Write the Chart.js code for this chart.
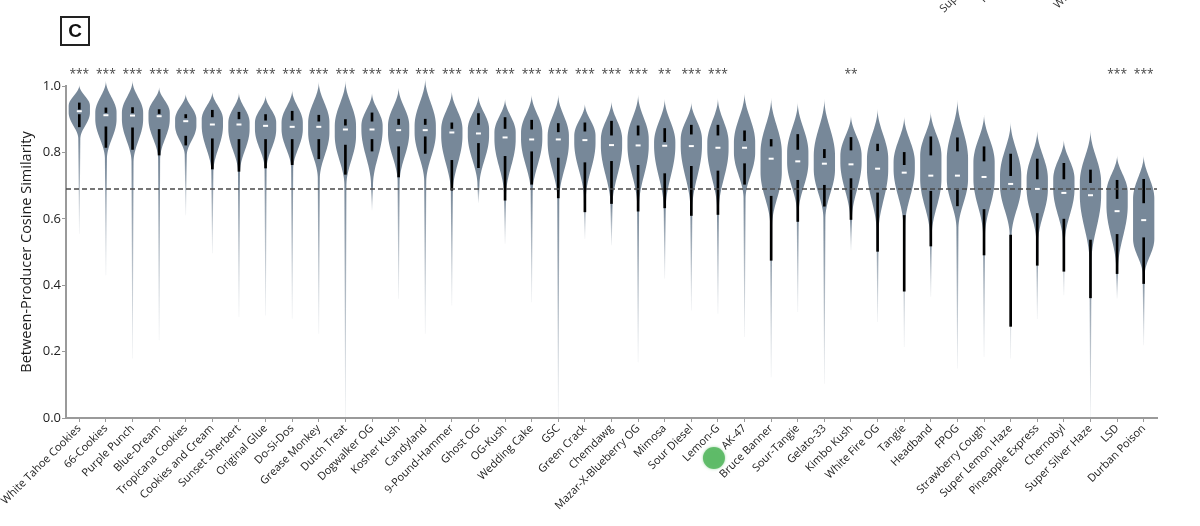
<!DOCTYPE html>
<html>
<head>
<meta charset="utf-8">
<script src="https://cdn.jsdelivr.net/npm/chart.js@4.4.1/dist/chart.umd.min.js"></script>
<style>
  html, body { margin: 0; padding: 0; background: #fff; }
  #wrap { width: 1200px; height: 526px; position: relative; }
</style>
</head>
<body>
<div id="wrap"><canvas id="chart" width="1200" height="526"></canvas></div>
<script>
// strains, ordered by median similarity
const strains = ['White Tahoe Cookies', '66-Cookies', 'Purple Punch', 'Blue-Dream', 'Tropicana Cookies',
  'Cookies and Cream', 'Sunset Sherbert', 'Original Glue', 'Do-Si-Dos', 'Grease Monkey', 'Dutch Treat',
  'Dogwalker OG', 'Kosher Kush', 'Candyland', '9-Pound-Hammer', 'Ghost OG', 'OG-Kush', 'Wedding Cake',
  'GSC', 'Green Crack', 'Chemdawg', 'Mazar-X-Blueberry OG', 'Mimosa', 'Sour Diesel', 'Lemon-G', 'AK-47',
  'Bruce Banner', 'Sour-Tangie', 'Gelato-33', 'Kimbo Kush', 'White Fire OG', 'Tangie', 'Headband', 'FPOG',
  'Strawberry Cough', 'Super Lemon Haze', 'Pineapple Express', 'Chernobyl', 'Super Silver Haze', 'LSD',
  'Durban Poison'];

const stars = ['***', '***', '***', '***', '***', '***', '***', '***', '***', '***', '***', '***', '***',
  '***', '***', '***', '***', '***', '***', '***', '***', '***', '**', '***', '***', '', '', '', '', '**',
  '', '', '', '', '', '', '', '', '', '***', '***'];

// violin outline key points (similarity values)
const violinTop = [1.003, 1.016, 1.016, 0.996, 0.977, 0.983, 0.980, 0.972, 0.988, 1.013, 1.016, 0.980, 0.996,
  1.023, 0.985, 0.972, 0.962, 0.974, 0.974, 0.947, 0.955, 0.974, 0.962, 0.952, 0.964, 0.980, 0.965, 0.952,
  0.962, 0.912, 0.932, 0.909, 0.923, 0.960, 0.915, 0.892, 0.867, 0.839, 0.867, 0.792, 0.792];
const widestTop = [0.94, 0.92, 0.92, 0.92, 0.90, 0.90, 0.89, 0.89, 0.89, 0.89, 0.88, 0.88, 0.88, 0.88, 0.87,
  0.87, 0.86, 0.86, 0.85, 0.85, 0.84, 0.84, 0.83, 0.84, 0.83, 0.83, 0.80, 0.80, 0.79, 0.79, 0.78, 0.77, 0.79,
  0.78, 0.77, 0.73, 0.72, 0.72, 0.71, 0.68, 0.66];
const widestBottom = [0.92, 0.90, 0.90, 0.90, 0.88, 0.88, 0.87, 0.87, 0.87, 0.86, 0.85, 0.87, 0.86, 0.86,
  0.85, 0.85, 0.84, 0.84, 0.83, 0.83, 0.82, 0.82, 0.82, 0.82, 0.81, 0.80, 0.74, 0.77, 0.75, 0.77, 0.75, 0.75,
  0.72, 0.72, 0.72, 0.70, 0.69, 0.69, 0.67, 0.64, 0.54];
const neck = [0.84, 0.78, 0.77, 0.78, 0.79, 0.74, 0.74, 0.75, 0.75, 0.72, 0.70, 0.70, 0.71, 0.71, 0.68, 0.70,
  0.67, 0.68, 0.66, 0.66, 0.64, 0.64, 0.63, 0.63, 0.63, 0.66, 0.58, 0.62, 0.60, 0.60, 0.56, 0.58, 0.55, 0.57,
  0.55, 0.55, 0.53, 0.53, 0.47, 0.45, 0.43];
const violinBottom = [0.555, 0.430, 0.179, 0.234, 0.611, 0.496, 0.304, 0.309, 0.299, 0.254, 0.0, 0.626, 0.359,
  0.254, 0.339, 0.648, 0.525, 0.349, 0.0, 0.540, 0.520, 0.168, 0.420, 0.324, 0.314, 0.244, 0.123, 0.319,
  0.103, 0.505, 0.289, 0.214, 0.365, 0.149, 0.184, 0.179, 0.298, 0.370, 0.003, 0.360, 0.219];

// inner markers
const whiskerHigh = [0.949, 0.934, 0.935, 0.929, 0.914, 0.927, 0.921, 0.914, 0.924, 0.912, 0.899, 0.919, 0.900,
  0.900, 0.889, 0.917, 0.905, 0.897, 0.887, 0.889, 0.894, 0.880, 0.872, 0.882, 0.882, 0.865, 0.839, 0.854,
  0.809, 0.845, 0.825, 0.800, 0.847, 0.844, 0.817, 0.795, 0.780, 0.767, 0.747, 0.716, 0.719];
const q3 = [0.930, 0.920, 0.919, 0.917, 0.904, 0.907, 0.901, 0.897, 0.897, 0.894, 0.882, 0.894, 0.884, 0.884,
  0.872, 0.884, 0.872, 0.870, 0.862, 0.864, 0.852, 0.852, 0.832, 0.855, 0.852, 0.835, 0.819, 0.809, 0.784,
  0.807, 0.805, 0.763, 0.792, 0.804, 0.774, 0.730, 0.720, 0.720, 0.709, 0.661, 0.648];
const median = [0.924, 0.912, 0.911, 0.909, 0.894, 0.884, 0.884, 0.880, 0.877, 0.877, 0.869, 0.869, 0.867,
  0.867, 0.860, 0.857, 0.845, 0.839, 0.839, 0.837, 0.822, 0.821, 0.820, 0.819, 0.814, 0.814, 0.781, 0.773,
  0.766, 0.764, 0.751, 0.739, 0.730, 0.730, 0.726, 0.705, 0.690, 0.678, 0.671, 0.623, 0.596];
const q1 = [0.914, 0.877, 0.874, 0.869, 0.849, 0.841, 0.839, 0.839, 0.839, 0.839, 0.822, 0.839, 0.817, 0.847,
  0.776, 0.827, 0.788, 0.802, 0.783, 0.769, 0.773, 0.761, 0.736, 0.758, 0.744, 0.766, 0.668, 0.716, 0.701,
  0.721, 0.678, 0.610, 0.683, 0.686, 0.628, 0.551, 0.616, 0.599, 0.536, 0.553, 0.543];
const whiskerLow = [0.877, 0.815, 0.809, 0.792, 0.822, 0.750, 0.743, 0.753, 0.763, 0.781, 0.734, 0.804, 0.726,
  0.797, 0.686, 0.754, 0.656, 0.704, 0.663, 0.621, 0.646, 0.623, 0.633, 0.610, 0.613, 0.704, 0.475, 0.592,
  0.638, 0.598, 0.502, 0.382, 0.518, 0.639, 0.491, 0.276, 0.460, 0.442, 0.362, 0.435, 0.405];

const yTicks = [0, 0.2, 0.4, 0.6, 0.8, 1.0];
const threshold = 0.69;

const violinColor = [119, 136, 153];

function halfWidth(i, v, W, tw) {
  const top = violinTop[i], wt = widestTop[i], wb = widestBottom[i], nk = neck[i], bt = violinBottom[i];
  if (v >= wt) {
    const t = (top - v) / (top - wt);
    return W * (1 - Math.cos(Math.PI * t)) / 2;
  }
  if (v >= wb) return W;
  if (v >= nk) {
    const t = (wb - v) / (wb - nk);
    return tw + (W - tw) * (1 + Math.cos(Math.PI * t)) / 2;
  }
  const t = (nk - v) / Math.max(nk - bt, 1e-6);
  return tw * (1 - 0.7 * t);
}

const violinPlugin = {
  id: 'violins',
  beforeDatasetsDraw(chart) {
    const { ctx, scales: { x, y } } = chart;
    const step = x.getPixelForValue(1) - x.getPixelForValue(0);
    const W = 0.4 * step;
    const tw = 1.0;
    const [r, g, b] = violinColor;
    strains.forEach((name, i) => {
      const cx = x.getPixelForValue(i);
      const yTop = y.getPixelForValue(violinTop[i]);
      const yBot = y.getPixelForValue(violinBottom[i]);
      const yNeck = y.getPixelForValue(neck[i]);
      const n = 120;
      const left = [], right = [];
      for (let k = 0; k <= n; k++) {
        const v = violinTop[i] - (violinTop[i] - violinBottom[i]) * k / n;
        const w = halfWidth(i, v, W, tw);
        const py = y.getPixelForValue(v);
        right.push([cx + w, py]);
        left.push([cx - w, py]);
      }
      const grad = ctx.createLinearGradient(0, yTop, 0, yBot);
      const nf = Math.min(Math.max((yNeck - yTop) / (yBot - yTop), 0), 1);
      grad.addColorStop(0, `rgba(${r},${g},${b},1)`);
      grad.addColorStop(nf, `rgba(${r},${g},${b},1)`);
      grad.addColorStop(1, `rgba(${r},${g},${b},0.1)`);
      ctx.save();
      ctx.beginPath();
      ctx.moveTo(right[0][0], right[0][1]);
      right.forEach(p => ctx.lineTo(p[0], p[1]));
      for (let k = left.length - 1; k >= 0; k--) ctx.lineTo(left[k][0], left[k][1]);
      ctx.closePath();
      ctx.fillStyle = grad;
      ctx.fill();
      ctx.restore();
    });
  },
  afterDatasetsDraw(chart) {
    const { ctx, chartArea, scales: { x, y } } = chart;
    // reference threshold line
    const ty = y.getPixelForValue(threshold);
    ctx.save();
    ctx.strokeStyle = '#4a4a4a';
    ctx.lineWidth = 1.5;
    ctx.setLineDash([5, 3]);
    ctx.beginPath();
    ctx.moveTo(chartArea.left, ty);
    ctx.lineTo(chartArea.right, ty);
    ctx.stroke();
    ctx.restore();
    // white median dashes
    ctx.save();
    ctx.strokeStyle = '#fff';
    ctx.lineWidth = 2;
    strains.forEach((s, i) => {
      const cx = x.getPixelForValue(i);
      const my = y.getPixelForValue(median[i]);
      ctx.beginPath();
      ctx.moveTo(cx - 2.5, my);
      ctx.lineTo(cx + 2.5, my);
      ctx.stroke();
    });
    ctx.restore();
    // significance stars
    ctx.save();
    ctx.fillStyle = '#444';
    ctx.font = '12px "Open Sans", sans-serif';
    ctx.textAlign = 'center';
    ctx.textBaseline = 'middle';
    const sy = y.getPixelForValue(1.033);
    stars.forEach((s, i) => {
      if (s) ctx.fillText(s, x.getPixelForValue(i), sy);
    });
    ctx.restore();
  },
  afterDraw(chart) {
    const { ctx, chartArea, scales: { x } } = chart;
    // panel letter
    ctx.save();
    ctx.strokeStyle = '#222';
    ctx.lineWidth = 2;
    ctx.strokeRect(61, 17, 28, 28);
    ctx.fillStyle = '#111';
    ctx.font = 'bold 19px "Liberation Sans", Arial, sans-serif';
    ctx.textAlign = 'center';
    ctx.textBaseline = 'middle';
    ctx.fillText('C', 75, 32);
    // clipped labels of the panel above
    ctx.fillStyle = '#333';
    ctx.font = '11px "Open Sans", sans-serif';
    ctx.textAlign = 'left';
    ctx.textBaseline = 'alphabetic';
    [['Super Lemon Haze', 944, 13], ['Pineapple Express', 984, 3], ['White Fire OG', 1058, 9]].forEach(([t, px, py]) => {
      ctx.save();
      ctx.translate(px, py);
      ctx.rotate(-Math.PI / 4);
      ctx.fillText(t, 0, 0);
      ctx.restore();
    });
    // green marker below Lemon-G
    ctx.fillStyle = 'rgba(88,184,98,0.9)';
    ctx.shadowColor = 'rgba(88,184,98,0.6)';
    ctx.shadowBlur = 3;
    ctx.beginPath();
    ctx.arc(x.getPixelForValue(24) - 4, chartArea.bottom + 40, 11, 0, Math.PI * 2);
    ctx.fill();
    ctx.restore();
  }
};

new Chart(document.getElementById('chart'), {
  type: 'bar',
  data: {
    labels: strains,
    datasets: [
      {
        data: strains.map((s, i) => [q3[i], whiskerHigh[i]]),
        backgroundColor: '#000',
        barThickness: 2,
        grouped: false
      },
      {
        data: strains.map((s, i) => [whiskerLow[i], q1[i]]),
        backgroundColor: '#000',
        barThickness: 2,
        grouped: false
      }
    ]
  },
  options: {
    responsive: false,
    animation: false,
    layout: { padding: { top: 86, right: 43, left: 0, bottom: 0 } },
    plugins: { legend: { display: false }, tooltip: { enabled: false } },
    scales: {
      x: {
        offset: true,
        grid: { display: true, drawOnChartArea: false, drawTicks: true, tickLength: 4, color: '#9a9a9a', offset: false },
        border: { display: true, color: '#9a9a9a', width: 2 },
        ticks: {
          autoSkip: false, minRotation: 45, maxRotation: 45, padding: 0,
          color: '#1a1a1a', font: { family: '"Open Sans", sans-serif', size: 11 }
        },
        afterFit: (scale) => { scale.height = 108; }
      },
      y: {
        min: 0, max: 1,
        afterBuildTicks: (scale) => { scale.ticks = yTicks.map(v => ({ value: v })); },
        grid: { display: true, drawOnChartArea: false, drawTicks: true, tickLength: 4, color: '#9a9a9a' },
        border: { display: true, color: '#9a9a9a', width: 2 },
        ticks: {
          padding: 1, color: '#222', font: { family: '"Open Sans", sans-serif', size: 13 },
          callback: (v) => Number(v).toFixed(1)
        },
        title: {
          display: true, text: 'Between-Producer Cosine Similarity', color: '#1a1a1a',
          font: { family: '"Open Sans", sans-serif', size: 14.5 }, padding: { top: 18, bottom: 0 }
        },
        afterFit: (scale) => { scale.width = 66; }
      }
    }
  },
  plugins: [violinPlugin]
});
</script>
</body>
</html>
